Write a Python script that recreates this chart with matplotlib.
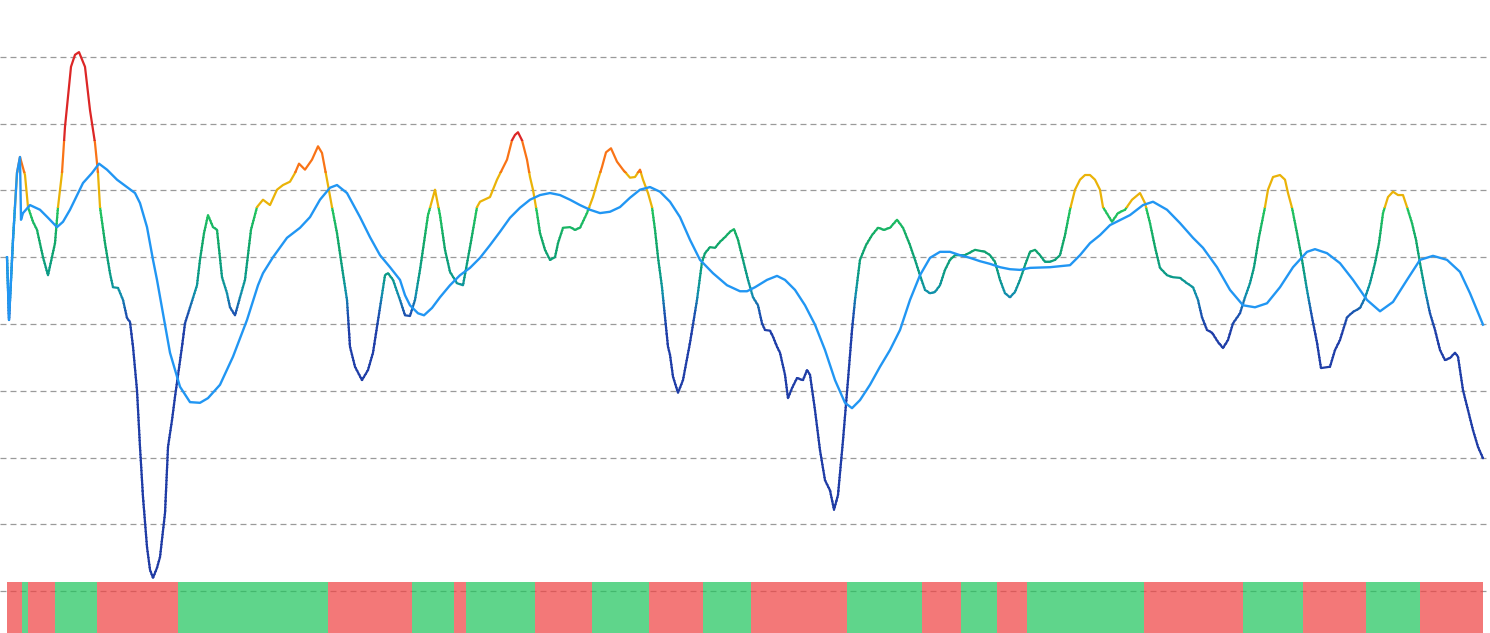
import numpy as np
import matplotlib
matplotlib.use("Agg")
import matplotlib.pyplot as plt
from matplotlib.colors import LinearSegmentedColormap
from matplotlib.patches import Rectangle

# ---------------- data ----------------
N_BARS = 492

osc_t = [0, 0.67, 2, 3.33, 4.33, 6, 7, 8.67, 10, 12, 13.67, 16, 17, 18.33, 19.33, 21.33, 22.67, 24, 26, 27.67,
         29.33, 30.33, 31, 32.67, 34.33, 35.33, 37, 38.67, 40, 41, 42, 43.33, 44.33, 45.33, 46.67, 47.67, 48.67,
         50, 51, 52.67, 53.67, 55, 56, 58.33, 59.33, 61, 63.33, 64.33, 65.67, 67, 68.67, 70, 71.67, 73.33, 74.33,
         76, 77.67, 79.33, 81.33, 83.33, 85.33, 87.67, 90, 92, 94.33, 96, 97.33, 99.33, 101.67, 103.67, 105,
         106.67, 108.33, 110, 111.67, 113.33, 114.33, 116, 118.33, 120.33, 122, 124.33, 126, 127, 128.67, 131,
         132.67, 134.33, 136, 137.67, 140.33, 142.67, 144.33, 146, 147.67, 150, 152, 154.33, 156.67, 157.67, 161,
         163.33, 165, 166.67, 168.33, 169.33, 170.33, 171.67, 173.33, 174.33, 175.33, 176.67, 177.67, 179.33,
         181, 182.67, 183.67, 185.33, 187.67, 189.33, 191, 193.33, 195.33, 197, 198.33, 199.67, 201.33, 203.33,
         205.33, 207.67, 209.33, 211, 212, 213.67, 215, 216, 217, 218.33, 219.33, 220.33, 221, 222, 223.67,
         225.33, 227.67, 230, 231.67, 232.67, 234.33, 236, 237.67, 239.33, 241, 242.33, 243.67, 245.33, 247,
         248.67, 250.33, 251.67, 252.67, 254.33, 255.33, 256.67, 257.67, 259.33, 260.33, 261.67, 263.33, 265.33,
         266.67, 267.67, 269.33, 271, 272.67, 274.33, 275.67, 277, 278.67, 280.33, 281.67, 282.67, 284.33,
         286.33, 288.33, 290.33, 292.33, 294.33, 296.67, 298.67, 301, 302.67, 304.33, 306, 307.67, 309.33, 311,
         312.67, 314.33, 316, 319.33, 322.67, 326, 327.67, 329.33, 331, 332.67, 334.33, 336, 337.67, 339.33, 341,
         342.67, 344.33, 346, 347.67, 349.33, 351, 352.67, 354.33, 356, 357.67, 359.33, 361, 362.67, 364.33,
         365.33, 368.33, 370.33, 372.67, 375, 377.67, 379.33, 381, 382.67, 384.33, 386.67, 388.67, 391, 393.33,
         395.33, 397, 398.33, 400, 401.67, 403.67, 405.33, 407, 408.67, 411, 412.67, 414.33, 415.67, 417.33,
         419.33, 420.33, 422, 424.33, 426, 427, 428.33, 430, 431.67, 433.33, 435, 436.67, 438, 441, 442.67,
         444.33, 446.67, 448.67, 451, 452.67, 454.33, 456, 457.33, 458.67, 460.33, 462, 463.67, 465.33, 466.67,
         468.33, 469.67, 471, 472.67, 474.33, 476, 477.67, 479.33, 481, 482.67, 483.67, 485.33, 487, 488.67,
         490.33, 492]
osc_v = [60.0, 50.6, 62.6, 72.6, 75.0, 72.3, 67.5, 65.3, 64.1, 60.0, 57.3, 62.1, 67.5, 72.6, 79.5, 88.5, 90.3,
         90.7, 88.5, 82.0, 77.1, 72.6, 67.5, 62.1, 57.6, 55.5, 55.4, 53.6, 50.9, 50.3, 46.6, 40.1, 31.6, 24.1,
         16.6, 13.2, 12.0, 13.5, 15.1, 21.7, 31.6, 35.6, 39.1, 46.6, 50.1, 52.5, 55.8, 59.6, 63.6, 66.3, 64.5,
         64.1, 57.0, 54.6, 52.5, 51.3, 54.0, 56.6, 64.1, 67.5, 68.6, 67.8, 70.1, 70.8, 71.3, 72.6, 74.0, 73.1,
         74.6, 76.6, 75.6, 71.6, 67.5, 63.6, 58.5, 53.6, 46.6, 43.6, 41.6, 43.1, 45.7, 52.5, 57.3, 57.6, 56.6,
         53.6, 51.3, 51.2, 53.6, 58.1, 66.3, 70.1, 66.3, 61.1, 57.8, 56.1, 55.8, 61.5, 67.5, 68.3, 69.0, 71.6,
         73.1, 74.6, 77.5, 78.3, 78.7, 77.5, 74.6, 72.0, 70.1, 66.6, 63.6, 61.1, 59.6, 60.0, 62.1, 64.4, 64.5,
         64.1, 64.4, 66.6, 69.0, 71.6, 73.5, 75.7, 76.3, 74.3, 73.1, 71.9, 72.0, 73.1, 71.6, 69.6, 67.5, 64.1,
         60.0, 55.5, 51.0, 46.6, 45.4, 42.1, 39.7, 41.6, 47.2, 53.6, 59.3, 60.6, 61.5, 61.4, 62.3, 63.0, 63.8,
         64.2, 62.6, 59.6, 56.6, 54.0, 52.8, 50.1, 49.1, 49.0, 48.1, 46.6, 45.7, 42.4, 38.9, 40.4, 41.9, 41.6,
         43.1, 42.4, 37.1, 31.1, 26.6, 25.1, 22.2, 24.4, 32.6, 41.6, 49.1, 53.6, 59.6, 61.8, 63.3, 64.4, 64.1,
         64.4, 65.6, 64.4, 61.8, 59.6, 57.3, 55.1, 54.6, 54.8, 55.8, 58.1, 59.6, 60.3, 60.3, 61.1, 60.8, 60.3,
         59.3, 56.6, 54.6, 54.0, 54.8, 56.6, 58.8, 60.8, 61.1, 60.3, 59.3, 59.3, 59.6, 60.3, 63.3, 67.1, 70.1,
         71.6, 72.3, 72.3, 71.6, 70.1, 67.5, 65.3, 66.6, 67.1, 68.6, 69.6, 68.1, 65.1, 61.5, 58.4, 57.3, 57.0,
         56.9, 56.1, 55.5, 53.6, 51.0, 49.1, 48.7, 47.3, 46.4, 47.6, 50.1, 51.6, 54.0, 56.1, 58.5, 63.0, 67.5,
         70.1, 72.0, 72.3, 71.6, 69.6, 67.4, 63.6, 59.6, 55.1, 51.0, 47.2, 43.4, 43.6, 46.1, 47.6, 51.0, 51.8,
         52.4, 53.9, 56.1, 59.1, 62.1, 66.6, 69.0, 69.8, 69.3, 69.3, 67.5, 65.1, 62.6, 59.1, 55.1, 51.6, 49.1,
         46.1, 44.6, 44.9, 45.7, 45.1, 40.1, 37.1, 34.1, 31.6, 29.9]

sig_t = [0, 0.67, 2, 3.33, 4.33, 4.67, 5.33, 7.67, 11, 13.67, 16.67, 18.67, 21, 25.33, 28.33, 30.67, 33.33,
         36.67, 40, 42.67, 44.33, 46.67, 48.67, 50, 52, 54.33, 57.67, 61, 64.33, 67, 71, 75.33, 80, 83.67, 85.33,
         88.67, 93.33, 97.67, 101, 104.33, 107.67, 110, 113.33, 117.67, 121, 124.33, 127.67, 131, 132.67, 134.33,
         137, 139, 141.67, 144.33, 147.67, 151, 154.33, 157.67, 161, 164.33, 167.67, 171, 174.33, 177.67, 181,
         184.33, 187.67, 191, 194.33, 197.67, 201, 204.33, 207.67, 211, 214.33, 217.67, 221, 224.33, 227.67, 231,
         235.33, 240, 244.33, 246.67, 249.33, 253.33, 256.67, 259.33, 262.67, 266, 269.33, 272.67, 276, 279.33,
         281.67, 284.33, 287.67, 291, 294.33, 297.67, 301, 304.33, 307.67, 311, 314.33, 317.67, 321, 324.33,
         327.67, 331, 334.33, 337.67, 341, 347.67, 354.33, 357.67, 361, 364.33, 367.67, 374.33, 378.67, 382,
         386.67, 391, 395.33, 398.67, 403.33, 407.67, 412, 416, 420, 424.33, 428.67, 433.33, 436, 440, 444.33,
         448.67, 453.33, 457.67, 462, 466.67, 471, 475.33, 480, 484.33, 487.67, 492]
sig_v = [60.0, 50.6, 62.6, 72.6, 75.0, 65.6, 66.6, 67.8, 67.1, 65.9, 64.5, 65.3, 67.1, 71.1, 72.6, 74.0, 73.1,
         71.6, 70.5, 69.6, 68.1, 64.5, 59.6, 56.6, 51.6, 45.7, 40.6, 38.3, 38.2, 38.9, 40.9, 45.1, 50.6, 55.8,
         57.6, 60.0, 62.9, 64.4, 66.0, 68.6, 70.4, 70.8, 69.6, 66.0, 63.0, 60.3, 58.5, 56.6, 54.3, 52.8, 51.6,
         51.3, 52.4, 54.0, 55.8, 57.3, 58.4, 59.9, 61.8, 63.8, 65.9, 67.4, 68.6, 69.3, 69.6, 69.3, 68.6, 67.8,
         67.1, 66.6, 66.8, 67.5, 68.9, 70.1, 70.5, 69.8, 68.3, 66.0, 62.6, 59.6, 57.6, 55.8, 54.9, 54.9, 55.5,
         56.6, 57.2, 56.6, 55.1, 52.8, 49.9, 46.1, 41.6, 38.2, 37.4, 38.6, 40.9, 43.6, 46.1, 49.1, 53.6, 57.3,
         59.9, 60.8, 60.8, 60.3, 59.9, 59.4, 59.0, 58.5, 58.2, 58.1, 58.4, 58.5, 58.8, 60.3, 62.1, 63.3, 64.8,
         66.3, 67.8, 68.3, 67.1, 65.1, 62.9, 61.4, 58.5, 55.1, 52.8, 52.5, 53.1, 55.5, 58.5, 60.8, 61.2, 60.6,
         59.1, 56.6, 53.6, 51.9, 53.3, 56.6, 59.6, 60.2, 59.6, 57.8, 54.6, 49.9]

# bottom regime band: alternating runs (bar counts), starting with "down"
regime_runs = [5, 2, 9, 14, 27, 50, 28, 14, 4, 23, 19, 19, 18, 16, 32, 25, 13, 12, 10, 39, 33, 20, 21, 18, 21]
regime_first = "down"
regime_level = 11.4

grid_levels = [10, 20, 30, 40, 50, 60, 70, 80, 90]

# ---------------- figure ----------------
W, H, DPI = 1490, 633, 100
fig = plt.figure(figsize=(W / DPI, H / DPI), dpi=DPI)
ax = fig.add_axes([0, 0, 1, 1])
ax.set_axis_off()
x0, x1 = -7 / 3, (W - 7) / 3
ax.set_xlim(x0, x1)
ax.set_ylim(3.74, 98.5)

matplotlib.rcParams["lines.scale_dashes"] = False
ax.hlines(grid_levels, x0, (1487 - 7) / 3, colors="#9a9a9a", linewidth=0.9,
          linestyles=(0, (4.3, 2.9)), zorder=1)

# regime bars
states = []
s = regime_first
for n in regime_runs:
    states += [s] * n
    s = "up" if s == "down" else "down"
bar_colors = ["#ef4444" if st == "down" else "#22c55e" for st in states]
ax.bar(np.arange(len(states)) + 0.5, regime_level, width=1.0, bottom=0, color=bar_colors,
       alpha=0.72, linewidth=0, zorder=2)

# oscillator with value-based colouring (hard stops above, gradient below)
low_cmap = LinearSegmentedColormap.from_list("low", [
    (0.0, "#1f3aa3"),
    ((49 - 0) / 67.5, "#1f3ea8"),
    ((52 - 0) / 67.5, "#1a55b0"),
    ((54.5 - 0) / 67.5, "#1090ad"),
    ((57.5 - 0) / 67.5, "#0b9a88"),
    ((62 - 0) / 67.5, "#10a56a"),
    (1.0, "#22c55e"),
])


def color_for(v):
    if v >= 77.5:
        return "#dc2626"
    if v >= 72.75:
        return "#f97316"
    if v >= 67.5:
        return "#eab308"
    return low_cmap(max(v, 0) / 67.5)


edges = sorted(set(list(np.arange(0, 67.5, 0.5)) + [67.5, 72.75, 77.5, 100]))
for lo, hi in zip(edges[:-1], edges[1:]):
    c = color_for((lo + hi) / 2)
    line, = ax.plot(osc_t, osc_v, color=c, linewidth=1.6, solid_joinstyle="round",
                    solid_capstyle="round", zorder=3)
    clip = Rectangle((x0, lo - 0.08), x1 - x0, (hi - lo) + 0.16, transform=ax.transData)
    line.set_clip_path(clip)

# signal line
ax.plot(sig_t, sig_v, color="#2196f3", linewidth=1.7, solid_joinstyle="round", zorder=4)

fig.savefig("out.png", dpi=DPI, facecolor="white")
